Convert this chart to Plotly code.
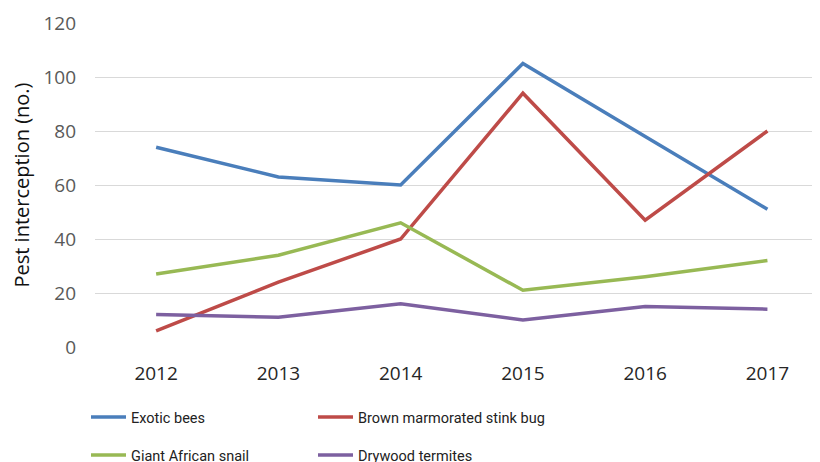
import plotly.graph_objects as go

years = [2012, 2013, 2014, 2015, 2016, 2017]
exotic_bees = [74, 63, 60, 105, 78, 51]
stink_bug = [6, 24, 40, 94, 47, 80]
african_snail = [27, 34, 46, 21, 26, 32]
drywood_termites = [12, 11, 16, 10, 15, 14]

# page body adds an 8px offset; figure is sized to fill the rest of the window
W, H, OFF = 812, 454, 8

series = [
    ("Exotic bees", exotic_bees, "#4A7EBB", "legend", 93, 417),
    ("Brown marmorated stink bug", stink_bug, "#BE4B48", "legend2", 320, 417),
    ("Giant African snail", african_snail, "#98B954", "legend3", 93, 455),
    ("Drywood termites", drywood_termites, "#7D60A0", "legend4", 320, 455),
]

fig = go.Figure()
legends = {}
for name, vals, color, lg, lx, ly in series:
    fig.add_trace(go.Scatter(
        x=years, y=vals, name=name, mode="lines",
        line=dict(color=color, width=3.5),
        legend=lg,
    ))
    legends[lg] = dict(
        orientation="h", xref="container", yref="container",
        xanchor="left", yanchor="middle",
        x=(lx - 15) / W, y=1 - (ly - OFF) / H,
        font=dict(family="Roboto, sans-serif", size=14.5, color="#222222"),
        bgcolor="rgba(0,0,0,0)", itemwidth=35,
    )

fig.update_layout(
    width=W, height=H,
    margin=dict(l=95 - OFF, r=0, t=23 - OFF, b=H - (347 - OFF), autoexpand=False),
    paper_bgcolor="white", plot_bgcolor="white",
    font=dict(family="Open Sans, sans-serif"),
    showlegend=True,
    xaxis=dict(
        tickmode="array", tickvals=years, ticktext=[str(y) for y in years],
        range=[2011.5, 2017.43], showgrid=False, zeroline=False,
        showline=False, ticks="",
        tickfont=dict(size=19, color="#262626"),
        ticklabelstandoff=13,
    ),
    yaxis=dict(
        range=[0, 120], tickvals=[0, 20, 40, 60, 80, 100, 120],
        showgrid=True, gridcolor="#D9D9D9", gridwidth=1.3,
        zeroline=False, showline=False, ticks="",
        tickfont=dict(size=19, color="#595959"),
        ticklabelstandoff=18,
        title=dict(text="Pest interception (no.)", standoff=14,
                   font=dict(size=20, color="#111111")),
    ),
    **legends,
)

fig.write_html("out.html")
